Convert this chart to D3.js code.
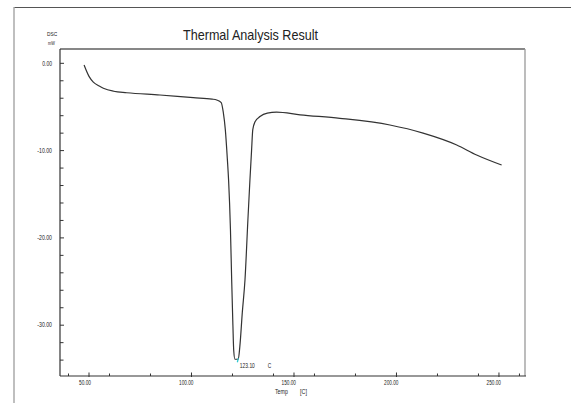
<!DOCTYPE html>
<html>
<head>
<meta charset="utf-8">
<script src="https://cdn.jsdelivr.net/npm/d3@7"></script>
<style>
  body { margin: 0; background: #fff; }
  svg text { font-family: "Liberation Sans", Arial, sans-serif; fill: #222; }
</style>
</head>
<body>
<svg id="chart" width="571" height="403"></svg>
<script>
'use strict';

// DSC curve: temperature [C] and heat flow [mW]
const temps = [47.6, 50, 52.1, 55, 57, 62, 68.4, 84.6, 100.9, 110, 112.3, 114.5, 115.5, 116.5, 117.5,
    118.1, 119, 119.6, 120.2, 120.6, 121.2, 122.8, 123.6, 124.8, 126.1, 127.5, 128.5, 129.3, 129.9,
    131, 133.4, 137, 141.5, 153, 172.4, 196.8, 213, 229.4, 239.1, 251.3];
const dsc = [-0.2, -1.5, -2.15, -2.6, -2.85, -3.2, -3.37, -3.63, -3.94, -4.1, -4.2, -4.5, -5.6, -7.6, -11,
    -13.4, -19, -24.8, -30, -32.9, -33.9, -33.9, -32.4, -28.5, -24.8, -18, -13.4, -10, -7.6,
    -6.7, -6.1, -5.7, -5.6, -5.9, -6.3, -7.07, -8.0, -9.36, -10.5, -11.65];

const xMajor = [50, 100, 150, 200, 250];
const xMinor = [40, 60, 80, 120, 140, 160, 180, 220, 240, 260];
const yMajor = [0, -10, -20, -30];
const yMinor = d3.range(-34, 1, 2).filter(v => v % 10 !== 0);
const peakTemp = 123.10;
const peakValue = -33.9;

const svg = d3.select("#chart");

// plot area
const plotLeft = 60, plotRight = 525, plotTop = 49, plotBottom = 376;

let x = d3.scaleLinear().domain([35.85, 262.7]).range([plotLeft, plotRight]);
let y = d3.scaleLinear().domain([1.64, -35.82]).range([plotTop, plotBottom]);

// the original uses a narrow font, squeeze text to its width
function narrow(sel, perChar) {
    sel.attr("textLength", function() { return this.textContent.length * perChar; })
        .attr("lengthAdjust", "spacingAndGlyphs");
}

// outer frame
svg.append("line").attr("x1", 14).attr("x2", 571).attr("y1", 7.5).attr("y2", 7.5)
    .attr("stroke", "#555").attr("stroke-width", 1.2);
svg.append("line").attr("x1", 14).attr("x2", 14).attr("y1", 7).attr("y2", 403)
    .attr("stroke", "#aaa").attr("stroke-width", 1.5);

// plot frame
svg.append("line").attr("x1", plotLeft).attr("x2", plotRight).attr("y1", plotTop).attr("y2", plotTop)
    .attr("stroke", "#111").attr("stroke-width", 1.2);
svg.append("line").attr("x1", plotRight).attr("x2", plotRight).attr("y1", plotTop).attr("y2", plotBottom)
    .attr("stroke", "#999").attr("stroke-width", 1.3);

// x axis with ticks pointing inwards
let xAxis = svg.append("g").attr("transform", "translate(0," + plotBottom + ")");
xAxis.append("line").attr("x1", plotLeft).attr("x2", plotRight + 1)
    .attr("stroke", "#333").attr("stroke-width", 1.2);
xAxis.selectAll(".minor").data(xMinor).enter().append("line")
    .attr("x1", d => x(d)).attr("x2", d => x(d)).attr("y1", 0).attr("y2", -2.5)
    .attr("stroke", "#333");
xAxis.selectAll(".major").data(xMajor).enter().append("line")
    .attr("x1", d => x(d)).attr("x2", d => x(d)).attr("y1", 1).attr("y2", -3.5)
    .attr("stroke", "#333");
xAxis.selectAll("text").data(xMajor).enter().append("text")
    .attr("x", d => x(d) + 2).attr("y", 8.5)
    .attr("text-anchor", "end")
    .style("font-size", "6.5px")
    .text(d => d.toFixed(2))
    .call(narrow, 2.4);

// y axis
let yAxis = svg.append("g").attr("transform", "translate(" + plotLeft + ",0)");
yAxis.append("line").attr("y1", plotTop).attr("y2", plotBottom)
    .attr("stroke", "#333").attr("stroke-width", 1.2);
yAxis.selectAll(".minor").data(yMinor).enter().append("line")
    .attr("y1", d => y(d)).attr("y2", d => y(d)).attr("x1", 0).attr("x2", 3.5)
    .attr("stroke", "#333");
yAxis.selectAll(".major").data(yMajor).enter().append("line")
    .attr("y1", d => y(d)).attr("y2", d => y(d)).attr("x1", 0).attr("x2", 4)
    .attr("stroke", "#333");
yAxis.selectAll("text").data(yMajor).enter().append("text")
    .attr("x", -8).attr("y", d => y(d) + 2.3)
    .attr("text-anchor", "end")
    .style("font-size", "6.5px")
    .text(d => d.toFixed(2))
    .call(narrow, 2.45);

// curve
let line = d3.line()
    .x((d, i) => x(temps[i]))
    .y(d => y(d))
    .curve(d3.curveMonotoneX);
svg.append("path")
    .datum(dsc)
    .attr("d", line)
    .attr("fill", "none")
    .attr("stroke", "#333")
    .attr("stroke-width", 1.2);

// peak marker and label
svg.append("line")
    .attr("x1", x(peakTemp) - 0.5).attr("x2", x(peakTemp) - 1.5)
    .attr("y1", y(peakValue) - 1).attr("y2", y(peakValue) + 3)
    .attr("stroke", "#2cc8d0").attr("stroke-width", 1.2);
svg.append("text")
    .attr("x", x(peakTemp) + 1).attr("y", y(peakValue) + 8.5)
    .style("font-size", "7.5px")
    .text(peakTemp.toFixed(2))
    .call(narrow, 2.5);
svg.append("text")
    .attr("x", x(peakTemp) + 29).attr("y", y(peakValue) + 8.5)
    .style("font-size", "7.5px")
    .text("C")
    .call(narrow, 3.5);

// titles
svg.append("text").attr("x", 183).attr("y", 40)
    .style("font-size", "14.5px")
    .text("Thermal Analysis Result")
    .call(narrow, 5.87);
svg.append("text").attr("x", 47).attr("y", 36).style("font-size", "5.5px").text("DSC").call(narrow, 3.4);
svg.append("text").attr("x", 48).attr("y", 45).style("font-size", "5.5px").text("mW").call(narrow, 3.4);
svg.append("text").attr("x", 275).attr("y", 394).style("font-size", "6.5px").text("Temp").call(narrow, 3.2);
svg.append("text").attr("x", 300).attr("y", 394).style("font-size", "6.5px").text("[C]").call(narrow, 2.3);
</script>
</body>
</html>
